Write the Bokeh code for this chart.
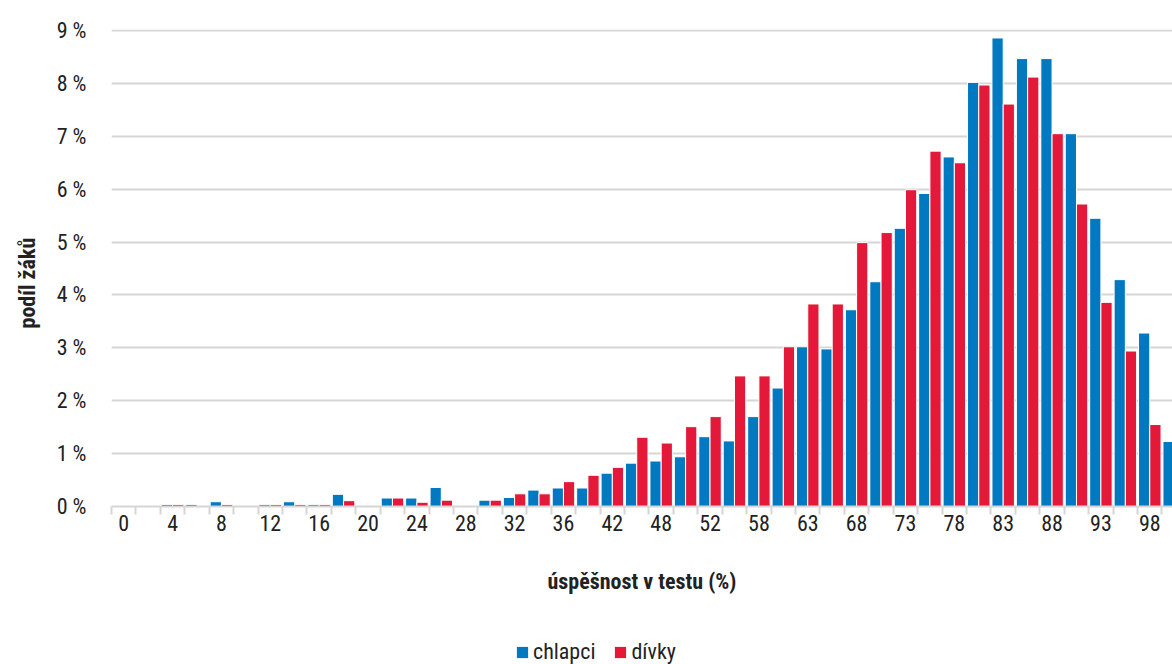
from bokeh.plotting import figure
from bokeh.layouts import column
from bokeh.models import Range1d, FixedTicker, Legend, LegendItem, ColumnDataSource, Title
from bokeh.transform import dodge
from bokeh.embed import file_html
from bokeh.resources import INLINE

# ---- data ----
categories = ["0", "", "4", "", "8", "", "12", "", "16", "", "20", "", "24", "", "28", "",
              "32", "", "36", "", "42", "", "48", "", "52", "", "58", "", "63", "", "68", "",
              "73", "", "78", "", "83", "", "88", "", "93", "", "98", ""]
chlapci = [0, 0, 0.04, 0.04, 0.09, 0, 0.04, 0.09, 0.04, 0.23, 0.01, 0.16, 0.16, 0.36, 0.01, 0.12,
           0.17, 0.31, 0.35, 0.35, 0.63, 0.82, 0.86, 0.94, 1.32, 1.24, 1.70, 2.24, 3.02, 2.98, 3.72, 4.25,
           5.26, 5.92, 6.61, 8.02, 8.86, 8.47, 8.47, 7.05, 5.45, 4.29, 3.28, 1.23]
divky = [0, 0, 0.04, 0.01, 0.04, 0, 0.04, 0.04, 0.04, 0.11, 0.01, 0.16, 0.08, 0.12, 0.01, 0.12,
         0.24, 0.24, 0.47, 0.59, 0.74, 1.31, 1.20, 1.51, 1.70, 2.47, 2.47, 3.02, 3.83, 3.83, 4.99, 5.18,
         5.99, 6.72, 6.50, 7.97, 7.61, 8.12, 7.05, 5.72, 3.86, 2.94, 1.55, float("nan")]
y_ticks = [0, 1, 2, 3, 4, 5, 6, 7, 8, 9]
series_names = ["chlapci", "dívky"]
series_colors = ["#0079C1", "#E4193A"]
y_title = "podíl žáků"
x_title = "úspěšnost v testu (%)"

FONT = "'Roboto Condensed', Roboto, sans-serif"
TXT = "#222222"
GRID = "#d6d6d6"

idx = list(range(len(categories)))
src = ColumnDataSource(dict(x=idx, chlapci=chlapci, divky=divky))

p = figure(width=1172, height=630, output_backend="svg", toolbar_location=None,
           x_range=Range1d(-0.5, 42.93), y_range=Range1d(0, 9.02),
           min_border_left=111, min_border_right=0, min_border_top=29, min_border_bottom=124)
p.outline_line_color = None
p.background_fill_color = "white"

bw = 0.46
p.vbar(x=dodge("x", -bw / 2), top="chlapci", width=bw, source=src,
       fill_color=series_colors[0], line_color="white", line_width=1)
p.vbar(x=dodge("x", bw / 2), top="divky", width=bw, source=src,
       fill_color=series_colors[1], line_color="white", line_width=1)

# y axis
p.yaxis.ticker = FixedTicker(ticks=y_ticks)
p.yaxis.major_label_overrides = {t: f"{t} %" for t in y_ticks}
p.yaxis.axis_line_color = None
p.yaxis.major_tick_line_color = None
p.yaxis.minor_tick_line_color = None
p.yaxis.major_tick_out = 0
p.yaxis.major_label_standoff = 25
p.yaxis.major_label_text_font = FONT
p.yaxis.major_label_text_font_size = "22px"
p.yaxis.major_label_text_color = TXT

# y title as a side title, aligned from the bottom of the frame and shifted up
p.add_layout(Title(text=y_title, align="left", vertical_align="top", offset=178, standoff=24,
                   text_font=FONT, text_font_size="22px", text_font_style="bold",
                   text_color=TXT), "left")

# x axis
shown = [i for i, c in enumerate(categories) if c != ""]
p.xaxis.ticker = FixedTicker(ticks=shown, minor_ticks=[i - 0.5 for i in range(len(categories) + 1)])
p.xaxis.major_label_overrides = {i: categories[i] for i in shown}
p.xaxis.axis_line_color = GRID
p.xaxis.axis_line_width = 2
p.xaxis.major_tick_line_color = None
p.xaxis.major_tick_out = 0
p.xaxis.major_tick_in = 0
p.xaxis.minor_tick_line_color = GRID
p.xaxis.minor_tick_line_width = 2
p.xaxis.minor_tick_out = 8
p.xaxis.minor_tick_in = 0
p.xaxis.major_label_standoff = 0
p.xaxis.major_label_text_font = FONT
p.xaxis.major_label_text_font_size = "22px"
p.xaxis.major_label_text_color = TXT
p.xaxis.axis_label = x_title
p.xaxis.axis_label_text_font = FONT
p.xaxis.axis_label_text_font_style = "bold"
p.xaxis.axis_label_text_font_size = "22px"
p.xaxis.axis_label_text_color = TXT
p.xaxis.axis_label_standoff = 35

p.xgrid.grid_line_color = None
p.ygrid.grid_line_color = GRID
p.ygrid.grid_line_width = 2

# legend strip below the chart (its frame is aligned with the chart frame: left edge at x=111)
lg = figure(width=1172, height=34, output_backend="svg", toolbar_location=None,
            x_range=Range1d(0, 1), y_range=Range1d(0, 1),
            x_axis_location=None, y_axis_location=None,
            min_border_left=0, min_border_right=0, min_border_top=0, min_border_bottom=0)
lg.xgrid.grid_line_color = None
lg.ygrid.grid_line_color = None
lg.outline_line_color = None
lg.border_fill_color = "white"
# zero-size swatch renderers: they only supply the legend colours
dummy = ColumnDataSource(dict(x=[0.5], bottom=[0.5], top=[0.5]))
d1 = lg.vbar(x="x", bottom="bottom", top="top", width=0.0, source=dummy,
             fill_color=series_colors[0], line_color=None)
d2 = lg.vbar(x="x", bottom="bottom", top="top", width=0.0, source=dummy,
             fill_color=series_colors[1], line_color=None)
legend = Legend(items=[LegendItem(label=series_names[0], renderers=[d1]),
                       LegendItem(label=series_names[1], renderers=[d2])],
                orientation="horizontal", location=(404, 0),
                glyph_width=14, glyph_height=14, label_standoff=4, spacing=18,
                padding=0, margin=0, border_line_color=None, background_fill_alpha=0,
                label_text_font=FONT, label_text_font_size="22px", label_text_color=TXT)
lg.add_layout(legend, "center")

layout = column(p, lg, spacing=0)
open("out.html", "w").write(file_html(layout, INLINE))
